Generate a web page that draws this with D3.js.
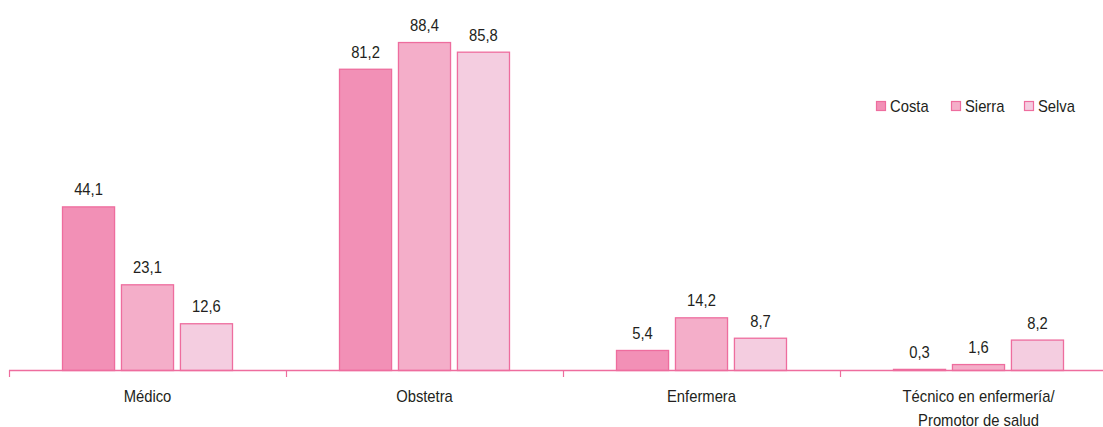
<!DOCTYPE html>
<meta charset="utf-8">
<title>Personal de salud</title>
<body>
<script src="https://cdn.jsdelivr.net/npm/d3@7"></script>
<style>
html, body {
    margin: 0;
    background: #fff;
}
svg text {
    font-family: "Liberation Sans Narrow", "Arial Narrow", "Liberation Sans", sans-serif;
    font-size: 17px;
    fill: #231f20;
}
</style>
<script>
var width = 1103,
    height = 427,
    squeeze = 0.87; // no narrow font installed, so squeeze the text horizontally

var categories = [["Médico"], ["Obstetra"], ["Enfermera"], ["Técnico en enfermería/", "Promotor de salud"]];
var series = ["Costa", "Sierra", "Selva"];
var costa = [44.1, 81.2, 5.4, 0.3];
var sierra = [23.1, 88.4, 14.2, 1.6];
var selva = [12.6, 85.8, 8.7, 8.2];

var fills = ["#f290b6", "#f4aec9", "#f4cde0"],
    stroke = "#ee6d9e";

var values = [costa, sierra, selva];

var svg = d3.select("body").append("svg")
    .attr("width", width)
    .attr("height", height);

function narrow(x, y) {
    return "translate(" + x + "," + y + ") scale(" + squeeze + ",1)";
}

var x0 = d3.scaleBand()
    .domain(d3.range(categories.length))
    .range([9, 1117]);

var x1 = d3.scaleBand()
    .domain(series)
    .range([53, 224])
    .paddingInner(0.1);

var y = d3.scaleLinear()
    .domain([0, 100])
    .range([370, -1]);

var groups = svg.selectAll("g.group")
    .data(categories)
    .enter().append("g")
    .attr("class", "group")
    .attr("transform", function(d, i) { return "translate(" + x0(i) + ",0)"; });

groups.each(function(c, i) {
    var g = d3.select(this);
    var rows = series.map(function(s, j) { return { s: s, j: j, v: values[j][i] }; });

    g.selectAll("rect")
        .data(rows)
        .enter().append("rect")
        .attr("x", function(d) { return x1(d.s) + 0.5; })
        .attr("y", function(d) { return y(d.v) + 0.5; })
        .attr("width", x1.bandwidth() - 1)
        .attr("height", function(d) { return Math.max(0, y(0) - y(d.v)); })
        .attr("fill", function(d) { return fills[d.j]; })
        .attr("stroke", stroke)
        .attr("stroke-width", 1.3);

    g.selectAll("text.val")
        .data(rows)
        .enter().append("text")
        .attr("class", "val")
        .attr("transform", function(d) { return narrow(x1(d.s) + x1.bandwidth() / 2, y(d.v) - 11); })
        .attr("text-anchor", "middle")
        .text(function(d) { return d.v.toFixed(1).replace(".", ","); });
});

// axis
var axis = svg.append("g");
axis.append("line")
    .attr("x1", 9).attr("x2", width)
    .attr("y1", 370.5).attr("y2", 370.5)
    .attr("stroke", stroke)
    .attr("stroke-width", 1.5);

axis.selectAll("line.tick")
    .data(d3.range(categories.length))
    .enter().append("line")
    .attr("class", "tick")
    .attr("x1", function(i) { return Math.round(x0(i)) + 0.5; })
    .attr("x2", function(i) { return Math.round(x0(i)) + 0.5; })
    .attr("y1", 370).attr("y2", 377)
    .attr("stroke", stroke)
    .attr("stroke-width", 1.2);

var labels = axis.selectAll("text.cat")
    .data(categories)
    .enter().append("text")
    .attr("class", "cat")
    .attr("text-anchor", "middle")
    .attr("transform", function(d, i) { return narrow(x0(i) + x0.bandwidth() / 2, 402); });

labels.selectAll("tspan")
    .data(function(d) { return d; })
    .enter().append("tspan")
    .attr("x", 0)
    .attr("dy", function(d, k) { return k ? 24 : 0; })
    .text(function(d) { return d; });

// legend
var legendX = [876, 951, 1024];
var legend = svg.selectAll("g.legend")
    .data(series)
    .enter().append("g")
    .attr("class", "legend")
    .attr("transform", function(d, i) { return "translate(" + legendX[i] + ",101)"; });

legend.append("rect")
    .attr("x", 0.5).attr("y", 0.5)
    .attr("width", 9).attr("height", 9)
    .attr("fill", function(d, i) { return fills[i]; })
    .attr("stroke", stroke)
    .attr("stroke-width", 1.2);

legend.append("text")
    .attr("transform", narrow(14, 11))
    .text(function(d) { return d; });
</script>
